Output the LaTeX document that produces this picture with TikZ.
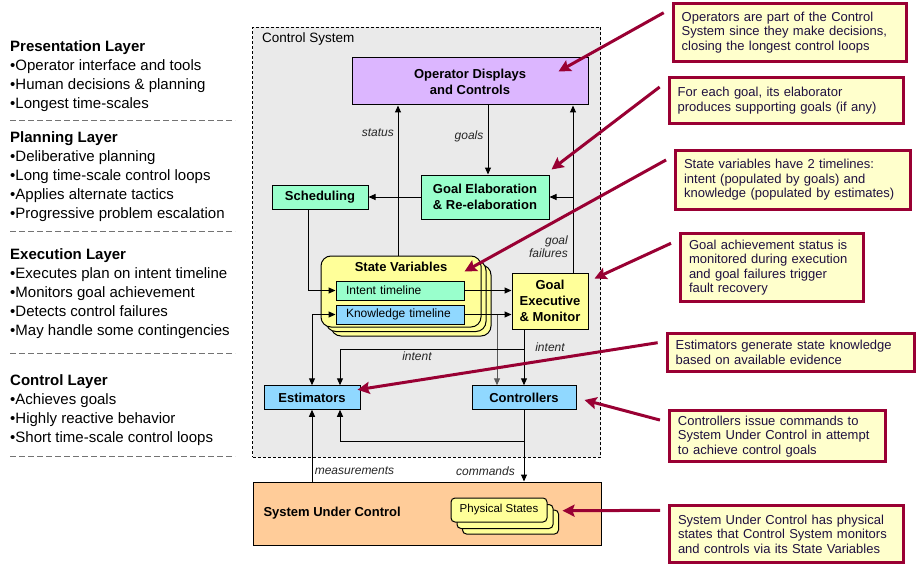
\documentclass[tikz,border=0pt]{standalone}
\usepackage{fontspec}
\setmainfont{Liberation Sans}
\usetikzlibrary{arrows.meta,positioning}
\definecolor{csgray}{HTML}{EAEAEA}
\definecolor{opcol}{HTML}{DCB6FF}
\definecolor{mint}{HTML}{99FFCC}
\definecolor{kblue}{HTML}{90D8FF}
\definecolor{gyel}{HTML}{FFFF99}
\definecolor{peach}{HTML}{FFCC99}
\definecolor{notefill}{HTML}{FFFFCC}
\definecolor{notered}{HTML}{990033}
\definecolor{notetext}{HTML}{1F1040}
\begin{document}
\begin{tikzpicture}[x=1pt,y=-1pt,
  >={Triangle[length=7pt,width=6pt]},
  box/.style={draw,line width=1pt,inner sep=0pt,align=center,font=\fontsize{13}{16}\selectfont\bfseries},
  tl/.style={draw,line width=1pt,inner ysep=0pt,inner xsep=10pt,text width=108pt,align=left,minimum height=19pt,font=\fontsize{12}{13}\selectfont},
  svbox/.style={draw,line width=1pt,fill=gyel,rounded corners=10pt,minimum width=160pt,minimum height=71pt},
  psbox/.style={draw,line width=1pt,fill=gyel,rounded corners=4pt,minimum width=96pt,minimum height=24pt,font=\fontsize{11.5}{13}\selectfont},
  arr/.style={->,line width=1pt},
  lbl/.style={inner sep=0pt,text=black!85,font=\fontsize{12}{13}\selectfont\itshape},
  note/.style={draw=notered,line width=3pt,fill=notefill,align=left,inner xsep=8.5pt,inner ysep=0pt,text=notetext,font=\fontsize{13}{14.5}\selectfont},
  callarr/.style={draw=notered,line width=3pt,-{Stealth[length=12pt,width=12pt,inset=2pt]}},
  layer/.style={anchor=north west,inner sep=0pt,align=left,font=\fontsize{15}{19}\selectfont},
  sep/.style={black!55,dash pattern=on 6pt off 3pt,line width=0.8pt}]
\useasboundingbox (0,0) rectangle (918,567);

% layers on the left
\node[layer] (pres) at (10,40.6) {\textbf{Presentation Layer}\\•Operator interface and tools\\•Human decisions \& planning\\•Longest time-scales};
\node[layer] (plan) at (10,131.3) {\textbf{Planning Layer}\\•Deliberative planning\\•Long time-scale control loops\\•Applies alternate tactics\\•Progressive problem escalation};
\node[layer] (exec) at (10,248.6) {\textbf{Execution Layer}\\•Executes plan on intent timeline\\•Monitors goal achievement\\•Detects control failures\\•May handle some contingencies};
\node[layer] (ctrl) at (10,374.6) {\textbf{Control Layer}\\•Achieves goals\\•Highly reactive behavior\\•Short time-scale control loops};
\foreach \y in {120.5,231.7,353,456.7}
  \draw[sep] (10,\y) -- (235,\y);

% control system
\node[draw,line width=0.8pt,dash pattern=on 3pt off 2pt,fill=csgray,minimum width=348pt,minimum height=430pt] (cs) at (426.5,242) {};
\node[anchor=west,inner sep=0pt,font=\fontsize{13.5}{15}\selectfont] (cstitle) at (262,39.5) {Control System};

\node[box,fill=opcol,minimum width=236pt,minimum height=47pt] (opd) at (470,81.5) {Operator Displays\\and Controls};
\node[box,fill=mint,minimum width=128pt,minimum height=44pt] (gel) at (485,197) {Goal Elaboration\\\& Re-elaboration};
\node[box,fill=mint,minimum width=96pt,minimum height=24pt] (sch) at (320,197) {Scheduling};

\node[svbox] (sv3) at (411,300.5) {};
\node[svbox] (sv2) at (406,296) {};
\node[svbox] (sv) at (401,291.5) {};
\node[box,draw=none] (svt) at (401,266.7) {State Variables};
\node[tl,fill=mint] (itl) at (400,290.5) {Intent timeline};
\node[tl,fill=kblue] (ktl) at (400,314.5) {Knowledge timeline};

\node[box,fill=gyel,minimum width=76pt,minimum height=56pt] (gex) at (550,301) {Goal\\Executive\\\& Monitor};
\node[box,fill=kblue,minimum width=96pt,minimum height=23.5pt] (est) at (312,397.5) {Estimators};
\node[box,fill=kblue,minimum width=104pt,minimum height=23.5pt] (ctl) at (524,397.5) {Controllers};

% system under control
\node[draw,line width=1pt,fill=peach,minimum width=348pt,minimum height=63pt] (suc) at (427,513.5) {};
\node[box,draw=none,anchor=west] (suct) at (263,512.7) {System Under Control};
\node[psbox] (ps3) at (510.5,522) {};
\node[psbox] (ps2) at (505,516.5) {};
\node[psbox] (ps) at (499,510) {Physical States};

% connectors
\coordinate (sx) at (398,0);
\coordinate (gx) at (488,0);
\coordinate (rx) at (573,0);
\coordinate (schx) at (308,0);
\coordinate (kx) at (497,0);
\coordinate (ex) at (340,0);
\coordinate (iy) at (0,349);
\coordinate (fy) at (0,441);
\draw[arr] (sv.north -| sx) -- (opd.south -| sx);
\draw[arr] (opd.south -| gx) -- (gel.north -| gx);
\draw[arr] (gex.north -| rx) -- (opd.south -| rx);
\draw[arr] (gel.east -| rx) -- (gel.east);
\draw[arr] (gel.west) -- (sch.east);
\draw[arr] (sch.south -| schx) |- (itl.west);
\draw[arr] (itl.east) -- (itl.east -| gex.west);
\draw[arr] (ktl.east) -- (ktl.east -| gex.west);
\draw[arr,black!65] (ktl.east -| kx) -- (ctl.north -| kx);
\draw[arr] (gex.south -| ctl.north) -- (ctl.north);
\draw[arr] (iy -| ctl.north) -| (est.north -| ex);
\draw[arr,<->] (est.north) |- (ktl.west);
\draw[arr] (ctl.south) |- (fy -| ex) -- (est.south -| ex);
\draw[arr] (ctl.south) -- (suc.north -| ctl.south);
\draw[arr] (suc.north -| est.south) -- (est.south);

\node[lbl,anchor=east] (lstat) at (394,133) {status};
\node[lbl] (lgoals) at (469,136) {goals};
\node[lbl,align=right,anchor=east] (lfail) at (568,247) {goal\\failures};
\node[lbl] (lint1) at (417,356) {intent};
\node[lbl] (lint2) at (550,347) {intent};
\node[lbl] (lmeas) at (354.5,470.7) {measurements};
\node[lbl] (lcmd) at (485.5,471.7) {commands};

% notes
\node[note,text width=216.6pt,minimum height=58.6pt] (n1) at (790,32.5) {Operators are part of the Control\\System since they make decisions,\\closing the longest control loops};
\node[note,text width=217.3pt,minimum height=46pt] (n2) at (786.3,100.5) {For each goal, its elaborator\\produces supporting goals (if any)};
\node[note,text width=218.3pt,minimum height=58.7pt] (n3) at (793.2,179.8) {State variables have 2 timelines:\\intent (populated by goals) and\\knowledge (populated by estimates)};
\node[note,text width=166pt,minimum height=68pt] (n4) at (772,267.8) {Goal achievement status is\\monitored during execution\\and goal failures trigger\\fault recovery};
\node[note,text width=230.3pt,minimum height=38pt] (n5) at (790.8,352.2) {Estimators generate state knowledge\\based on available evidence};
\node[note,text width=198.7pt,minimum height=51.3pt] (n6) at (777.3,436.2) {Controllers issue commands to\\System Under Control in attempt\\to achieve control goals};
\node[note,text width=217pt,minimum height=56.7pt] (n7) at (786.5,534.2) {System Under Control has physical\\states that Control System monitors\\and controls via its State Variables};

\draw[callarr] ([shift={(-8,11)}]n1.north west) -- ([shift={(-30,-10)}]opd.east);
\draw[callarr] ([shift={(-8,11)}]n2.north west) -- ([shift={(2,-5)}]gel.north east);
\draw[callarr] ([shift={(-8,11)}]n3.north west) -- ([shift={(-17,16)}]sv.north east);
\draw[callarr] ([shift={(-8,11)}]n4.north west) -- ([shift={(6,6)}]gex.north east);
\draw[callarr] ([shift={(-8,11)}]n5.north west) -- ([shift={(-3,4.5)}]est.north east);
\draw[callarr] ([shift={(-8,11)}]n6.north west) -- ([shift={(8,2.5)}]ctl.east);
\draw[callarr] ([shift={(-8,6)}]n7.north west) -- ([shift={(15,0.7)}]ps.east);
\end{tikzpicture}
\end{document}
